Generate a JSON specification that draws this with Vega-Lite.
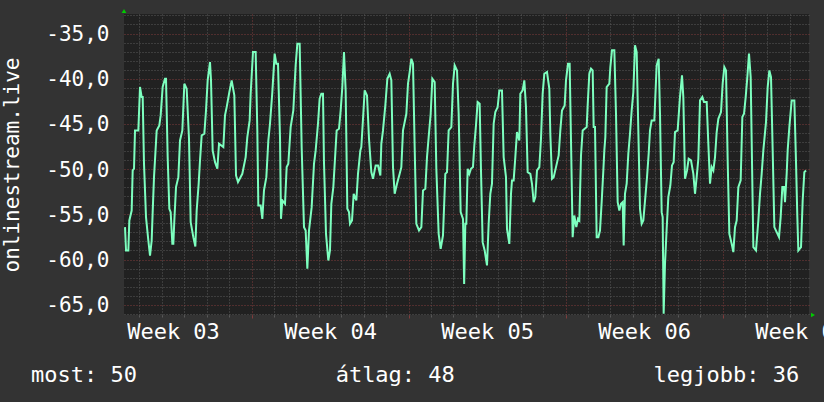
{
"$schema": "https://vega.github.io/schema/vega-lite/v6.json",
"width": 685, "height": 301,
"autosize": {"type": "none"},
"padding": {"left": 124, "top": 14, "right": 15, "bottom": 87},
"background": "#333333",
"config": {"view": {"fill": "#212121", "stroke": null}, "font": "DejaVu Sans Mono"},
"title": {"text": "most: 50\u00a0\u00a0\u00a0\u00a0\u00a0\u00a0\u00a0\u00a0\u00a0\u00a0\u00a0\u00a0\u00a0\u00a0\u00a0átlag: 48\u00a0\u00a0\u00a0\u00a0\u00a0\u00a0\u00a0\u00a0\u00a0\u00a0\u00a0\u00a0\u00a0\u00a0\u00a0legjobb: 36", "orient": "bottom", "anchor": "start", "frame": "group", "dx": -93, "offset": 40, "font": "DejaVu Sans Mono", "fontSize": 22, "fontWeight": "normal", "color": "#ffffff", "baseline": "alphabetic"},
"data": {"values": [
{"day":1.36,"value":-56.42},{"day":1.404,"value":-59.0},{"day":1.509,"value":-59.0},{"day":1.553,"value":-55.68},{"day":1.657,"value":-54.58},{"day":1.702,"value":-50.15},{"day":1.761,"value":-49.96},{"day":1.806,"value":-45.72},{"day":1.954,"value":-45.72},{"day":2.029,"value":-40.92},{"day":2.103,"value":-42.03},{"day":2.148,"value":-42.03},{"day":2.207,"value":-49.41},{"day":2.296,"value":-55.31},{"day":2.4,"value":-57.9},{"day":2.475,"value":-59.56},{"day":2.549,"value":-57.9},{"day":2.593,"value":-54.76},{"day":2.653,"value":-50.89},{"day":2.772,"value":-45.72},{"day":2.89,"value":-45.17},{"day":2.95,"value":-44.06},{"day":3.039,"value":-40.92},{"day":3.143,"value":-40.0},{"day":3.188,"value":-40.0},{"day":3.262,"value":-48.67},{"day":3.336,"value":-54.39},{"day":3.396,"value":-54.76},{"day":3.47,"value":-58.27},{"day":3.515,"value":-58.27},{"day":3.559,"value":-55.68},{"day":3.634,"value":-51.99},{"day":3.738,"value":-50.89},{"day":3.812,"value":-46.83},{"day":3.916,"value":-45.72},{"day":4.005,"value":-40.55},{"day":4.109,"value":-41.11},{"day":4.213,"value":-46.64},{"day":4.288,"value":-55.87},{"day":4.406,"value":-57.53},{"day":4.496,"value":-58.56},{"day":4.555,"value":-54.58},{"day":4.644,"value":-51.62},{"day":4.704,"value":-49.04},{"day":4.778,"value":-46.27},{"day":4.897,"value":-46.09},{"day":4.971,"value":-43.51},{"day":5.045,"value":-40.18},{"day":5.149,"value":-38.16},{"day":5.194,"value":-40.18},{"day":5.268,"value":-47.93},{"day":5.373,"value":-49.23},{"day":5.476,"value":-49.96},{"day":5.551,"value":-47.2},{"day":5.744,"value":-47.57},{"day":5.818,"value":-44.06},{"day":5.893,"value":-43.14},{"day":6.011,"value":-41.48},{"day":6.115,"value":-40.18},{"day":6.234,"value":-41.85},{"day":6.309,"value":-50.7},
{"day":6.397,"value":-51.44},{"day":6.59,"value":-50.52},{"day":6.739,"value":-48.67},{"day":6.813,"value":-46.46},{"day":6.917,"value":-44.61},{"day":6.962,"value":-41.66},{"day":7.066,"value":-37.05},{"day":7.185,"value":-37.05},{"day":7.259,"value":-45.72},{"day":7.304,"value":-54.02},{"day":7.408,"value":-54.02},{"day":7.482,"value":-55.5},{"day":7.556,"value":-52.36},{"day":7.661,"value":-50.89},{"day":7.75,"value":-46.83},{"day":7.824,"value":-44.98},{"day":7.928,"value":-41.48},{"day":8.032,"value":-37.23},{"day":8.106,"value":-38.34},{"day":8.181,"value":-38.34},{"day":8.27,"value":-46.46},{"day":8.314,"value":-55.5},{"day":8.374,"value":-53.47},{"day":8.493,"value":-53.84},{"day":8.567,"value":-49.78},{"day":8.641,"value":-49.41},{"day":8.745,"value":-45.35},{"day":8.864,"value":-43.51},{"day":8.968,"value":-38.52},{"day":9.043,"value":-36.13},{"day":9.147,"value":-36.13},{"day":9.236,"value":-47.57},{"day":9.34,"value":-56.42},{"day":9.414,"value":-56.79},{"day":9.489,"value":-61.03},{"day":9.563,"value":-56.79},{"day":9.682,"value":-54.21},{"day":9.786,"value":-49.41},{"day":9.86,"value":-47.93},{"day":9.964,"value":-44.98},{"day":10.038,"value":-42.21},{"day":10.113,"value":-41.66},{"day":10.187,"value":-41.66},{"day":10.231,"value":-49.23},{"day":10.321,"value":-57.16},{"day":10.425,"value":-60.11},{"day":10.499,"value":-59.0},{"day":10.559,"value":-53.84},{"day":10.648,"value":-51.99},{"day":10.796,"value":-45.72},{"day":10.9,"value":-45.54},{"day":10.975,"value":-43.51},{"day":11.049,"value":-40.92},{"day":11.123,"value":-37.05},{"day":11.197,"value":-41.29},{"day":11.272,"value":-54.39},{"day":11.346,"value":-54.76},{"day":11.391,"value":-56.05},
{"day":11.48,"value":-55.68},{"day":11.555,"value":-52.73},{"day":11.674,"value":-53.47},{"day":11.748,"value":-50.52},{"day":11.852,"value":-47.93},{"day":11.896,"value":-47.57},{"day":11.971,"value":-44.43},{"day":12.045,"value":-41.29},{"day":12.149,"value":-41.85},{"day":12.238,"value":-46.64},{"day":12.342,"value":-50.33},{"day":12.417,"value":-51.07},{"day":12.535,"value":-49.59},{"day":12.64,"value":-49.59},{"day":12.744,"value":-50.7},{"day":12.788,"value":-47.2},{"day":12.862,"value":-45.72},{"day":12.966,"value":-42.95},{"day":13.056,"value":-40.0},{"day":13.16,"value":-39.45},{"day":13.234,"value":-40.18},{"day":13.308,"value":-49.78},{"day":13.383,"value":-52.73},{"day":13.487,"value":-51.62},{"day":13.606,"value":-50.52},{"day":13.68,"value":-49.78},{"day":13.754,"value":-45.72},{"day":13.903,"value":-43.88},{"day":13.977,"value":-40.55},{"day":14.051,"value":-39.26},{"day":14.126,"value":-37.79},{"day":14.2,"value":-38.34},{"day":14.274,"value":-47.57},{"day":14.349,"value":-56.05},{"day":14.467,"value":-56.79},{"day":14.572,"value":-56.42},{"day":14.646,"value":-52.36},{"day":14.75,"value":-52.18},{"day":14.824,"value":-48.67},{"day":14.898,"value":-46.46},{"day":14.988,"value":-43.88},{"day":15.062,"value":-40.0},{"day":15.166,"value":-40.37},{"day":15.24,"value":-49.96},{"day":15.344,"value":-57.16},{"day":15.433,"value":-58.82},{"day":15.537,"value":-57.34},{"day":15.641,"value":-50.52},{"day":15.716,"value":-50.33},{"day":15.79,"value":-45.72},{"day":15.909,"value":-45.35},{"day":15.983,"value":-40.55},{"day":16.058,"value":-38.52},{"day":16.162,"value":-39.08},{"day":16.236,"value":-43.88},{"day":16.325,"value":-54.76},{"day":16.429,"value":-55.5},{"day":16.48,"value":-62.7},
{"day":16.533,"value":-56.05},{"day":16.577,"value":-56.05},{"day":16.637,"value":-49.96},{"day":16.711,"value":-50.52},{"day":16.785,"value":-49.96},{"day":16.874,"value":-49.78},{"day":16.934,"value":-47.38},{"day":17.008,"value":-45.17},{"day":17.082,"value":-42.58},{"day":17.172,"value":-42.77},{"day":17.231,"value":-50.15},{"day":17.305,"value":-58.08},{"day":17.395,"value":-59.0},{"day":17.499,"value":-60.66},{"day":17.573,"value":-56.05},{"day":17.647,"value":-52.73},{"day":17.721,"value":-51.62},{"day":17.796,"value":-44.98},{"day":17.87,"value":-43.69},{"day":17.974,"value":-43.14},{"day":18.048,"value":-41.29},{"day":18.167,"value":-41.29},{"day":18.242,"value":-48.67},{"day":18.346,"value":-50.89},{"day":18.39,"value":-56.61},{"day":18.494,"value":-58.27},{"day":18.569,"value":-52.73},{"day":18.613,"value":-51.25},{"day":18.687,"value":-51.25},{"day":18.762,"value":-48.67},{"day":18.836,"value":-45.9},{"day":18.94,"value":-46.83},{"day":18.985,"value":-41.66},{"day":19.089,"value":-41.29},{"day":19.163,"value":-40.18},{"day":19.237,"value":-43.14},{"day":19.312,"value":-50.33},{"day":19.431,"value":-50.52},{"day":19.505,"value":-51.62},{"day":19.579,"value":-53.65},{"day":19.653,"value":-53.1},{"day":19.728,"value":-50.15},{"day":19.832,"value":-49.78},{"day":19.906,"value":-46.64},{"day":19.98,"value":-41.66},{"day":20.055,"value":-39.45},{"day":20.174,"value":-39.26},{"day":20.278,"value":-41.11},{"day":20.322,"value":-46.09},{"day":20.397,"value":-51.07},{"day":20.471,"value":-50.89},{"day":20.575,"value":-49.78},{"day":20.694,"value":-48.49},{"day":20.768,"value":-45.72},{"day":20.842,"value":-43.51},{"day":20.961,"value":-42.95},{"day":21.021,"value":-40.18},{"day":21.11,"value":-38.34},{"day":21.184,"value":-38.34},{"day":21.244,"value":-46.83},{"day":21.318,"value":-57.53},{"day":21.392,"value":-55.13},{"day":21.481,"value":-56.42},{"day":21.556,"value":-55.5},
{"day":21.616,"value":-55.68},{"day":21.69,"value":-48.49},{"day":21.764,"value":-45.72},{"day":21.943,"value":-45.35},{"day":21.987,"value":-42.95},{"day":22.061,"value":-39.45},{"day":22.136,"value":-38.89},{"day":22.21,"value":-39.08},{"day":22.255,"value":-45.35},{"day":22.314,"value":-45.35},{"day":22.388,"value":-57.53},{"day":22.463,"value":-57.53},{"day":22.537,"value":-56.79},{"day":22.611,"value":-53.65},{"day":22.686,"value":-50.15},{"day":22.73,"value":-47.93},{"day":22.775,"value":-46.46},{"day":22.834,"value":-40.92},{"day":22.953,"value":-40.55},{"day":22.998,"value":-38.71},{"day":23.072,"value":-36.86},{"day":23.176,"value":-36.86},{"day":23.25,"value":-43.88},{"day":23.325,"value":-53.65},{"day":23.399,"value":-54.58},{"day":23.473,"value":-53.84},{"day":23.548,"value":-53.65},{"day":23.592,"value":-58.45},{"day":23.651,"value":-52.73},{"day":23.726,"value":-51.62},{"day":23.8,"value":-48.3},{"day":23.874,"value":-46.09},{"day":23.949,"value":-43.51},{"day":24.023,"value":-41.48},{"day":24.097,"value":-36.31},{"day":24.172,"value":-37.05},{"day":24.246,"value":-45.72},{"day":24.32,"value":-54.39},{"day":24.395,"value":-56.05},{"day":24.469,"value":-55.68},{"day":24.558,"value":-53.1},{"day":24.633,"value":-50.89},{"day":24.707,"value":-48.3},{"day":24.766,"value":-45.72},{"day":24.84,"value":-44.61},{"day":24.959,"value":-44.61},{"day":25.063,"value":-38.52},{"day":25.153,"value":-37.79},{"day":25.212,"value":-43.88},{"day":25.286,"value":-54.76},{"day":25.331,"value":-55.31},{"day":25.375,"value":-66.0},{"day":25.435,"value":-60.48},{"day":25.509,"value":-56.61},{"day":25.583,"value":-53.1},{"day":25.673,"value":-51.81},{"day":25.747,"value":-49.59},{"day":25.821,"value":-49.23},{"day":25.881,"value":-45.9},{"day":25.999,"value":-45.72},{"day":26.103,"value":-42.03},{"day":26.193,"value":-39.63},{"day":26.252,"value":-42.03},{"day":26.326,"value":-51.07},{"day":26.416,"value":-50.15},{"day":26.49,"value":-48.86},{"day":26.594,"value":-49.04},
{"day":26.699,"value":-50.52},{"day":26.773,"value":-52.73},{"day":26.847,"value":-50.89},{"day":26.922,"value":-48.86},{"day":26.996,"value":-42.4},{"day":27.1,"value":-42.03},{"day":27.174,"value":-42.58},{"day":27.293,"value":-42.58},{"day":27.367,"value":-47.2},{"day":27.442,"value":-51.62},{"day":27.516,"value":-49.78},{"day":27.59,"value":-50.15},{"day":27.665,"value":-48.67},{"day":27.739,"value":-45.9},{"day":27.813,"value":-44.43},{"day":27.932,"value":-43.69},{"day":28.006,"value":-40.55},{"day":28.081,"value":-38.71},{"day":28.155,"value":-39.08},{"day":28.229,"value":-49.04},{"day":28.304,"value":-57.16},{"day":28.408,"value":-58.27},{"day":28.482,"value":-59.19},{"day":28.556,"value":-56.42},{"day":28.631,"value":-55.68},{"day":28.705,"value":-51.99},{"day":28.809,"value":-51.25},{"day":28.883,"value":-44.24},{"day":28.958,"value":-43.88},{"day":29.032,"value":-42.03},{"day":29.106,"value":-39.82},{"day":29.18,"value":-37.23},{"day":29.255,"value":-39.82},{"day":29.299,"value":-46.83},{"day":29.374,"value":-58.64},{"day":29.492,"value":-59.0},{"day":29.597,"value":-55.68},{"day":29.671,"value":-52.73},{"day":29.745,"value":-50.52},{"day":29.819,"value":-47.93},{"day":29.938,"value":-44.8},{"day":30.013,"value":-40.92},{"day":30.087,"value":-39.08},{"day":30.161,"value":-39.82},{"day":30.236,"value":-47.93},{"day":30.31,"value":-56.42},{"day":30.414,"value":-56.97},{"day":30.518,"value":-57.53},{"day":30.592,"value":-55.31},{"day":30.666,"value":-51.99},{"day":30.741,"value":-51.99},{"day":30.785,"value":-53.65},{"day":30.86,"value":-50.52},{"day":30.904,"value":-47.93},{"day":30.979,"value":-45.35},{"day":31.083,"value":-42.4},{"day":31.202,"value":-42.4},{"day":31.276,"value":-49.23},{"day":31.335,"value":-55.31},{"day":31.38,"value":-59.0},{"day":31.499,"value":-58.64},{"day":31.573,"value":-53.47},{"day":31.647,"value":-50.33},{"day":31.722,"value":-50.15}
]},
"layer": [
{"mark": {"type": "line", "strokeOpacity": 0},
 "encoding": {
  "x": {"field": "day", "type": "quantitative", "scale": {"domain": [1.315, 31.855], "nice": false, "zero": false},
    "axis": {"orient": "bottom", "values": [2,3,4,5,6,8,9,10,11,12,13,15,16,17,18,19,20,22,23,24,25,26,27,29,30,31], "grid": true, "gridColor": "#5a5a5a", "gridDash": [1,2], "gridWidth": 1, "labels": false, "ticks": true, "tickSize": 2, "tickColor": "#5a5a5a", "domain": false, "title": null}},
  "y": {"field": "value", "type": "quantitative", "scale": {"domain": [-66.14, -32.84], "nice": false, "zero": false},
    "axis": {"orient": "left", "values": [-66,-64,-63,-62,-61,-59,-58,-57,-56,-54,-53,-52,-51,-49,-48,-47,-46,-44,-43,-42,-41,-39,-38,-37,-36,-34,-33], "grid": true, "gridColor": "#5a5a5a", "gridDash": [1,2], "gridWidth": 1, "labels": false, "ticks": false, "domain": false, "title": null}}
 }},
{"mark": {"type": "line", "strokeOpacity": 0},
 "encoding": {
  "x": {"field": "day", "type": "quantitative", "scale": {"domain": [1.315, 31.855], "nice": false, "zero": false},
    "axis": {"orient": "bottom", "values": [3.5, 10.5, 17.5, 24.5, 31.5], "grid": false, "ticks": false, "tickSize": 0, "domain": false, "labelExpr": "'Week 0' + (floor(datum.value / 7) + 3)", "labelFont": "DejaVu Sans Mono", "labelFontSize": 22, "labelColor": "#ffffff", "labelBaseline": "alphabetic", "labelPadding": 23, "labelOverlap": false, "labelFlush": false, "title": null}},
  "y": {"field": "value", "type": "quantitative", "scale": {"domain": [-66.14, -32.84], "nice": false, "zero": false}, "axis": null}
 }},
{"mark": {"type": "line", "color": "#7dffbf", "strokeWidth": 2, "interpolate": "linear"},
 "encoding": {
  "x": {"field": "day", "type": "quantitative", "scale": {"domain": [1.315, 31.855], "nice": false, "zero": false},
    "axis": {"orient": "bottom", "values": [7, 14, 21, 28], "grid": true, "gridColor": "#803c3c", "gridDash": [1,2], "gridWidth": 1, "labels": false, "ticks": true, "tickSize": 3, "tickColor": "#803c3c", "domain": false, "title": null}},
  "y": {"field": "value", "type": "quantitative", "scale": {"domain": [-66.14, -32.84], "nice": false, "zero": false},
    "axis": {"orient": "left", "values": [-65,-60,-55,-50,-45,-40,-35], "grid": true, "gridColor": "#803c3c", "gridDash": [1,2], "gridWidth": 1, "ticks": false, "domain": false,
      "labelExpr": "replace(replace(format(datum.value, '.1f'), '.', ','), '\u2212', '-')", "labelFont": "DejaVu Sans Mono", "labelFontSize": 21, "labelColor": "#ffffff", "labelPadding": 15, "labelBaseline": "middle", "labelOffset": 1, "labelOverlap": false, "labelFlush": false,
      "title": "onlinestream.live", "titleFont": "DejaVu Sans Mono", "titleFontSize": 21, "titleFontWeight": "normal", "titleColor": "#ffffff", "titleX": -106, "titleBaseline": "alphabetic"}}
 }},
{"data": {"values": [{"marker": "top"}]},
 "mark": {"type": "point", "shape": "triangle-up", "filled": true, "color": "#00cc00", "size": 22, "opacity": 1, "yOffset": -3},
 "encoding": {"x": {"datum": 1.315, "type": "quantitative", "axis": null}, "y": {"datum": -32.84, "type": "quantitative", "axis": null}}},
{"data": {"values": [{"marker": "right"}]},
 "mark": {"type": "point", "shape": "triangle-right", "filled": true, "color": "#00cc00", "size": 22, "opacity": 1, "xOffset": 4},
 "encoding": {"x": {"datum": 31.855, "type": "quantitative", "axis": null}, "y": {"datum": -66.14, "type": "quantitative", "axis": null}}}
],
"resolve": {"axis": {"x": "independent", "y": "independent"}}
}
